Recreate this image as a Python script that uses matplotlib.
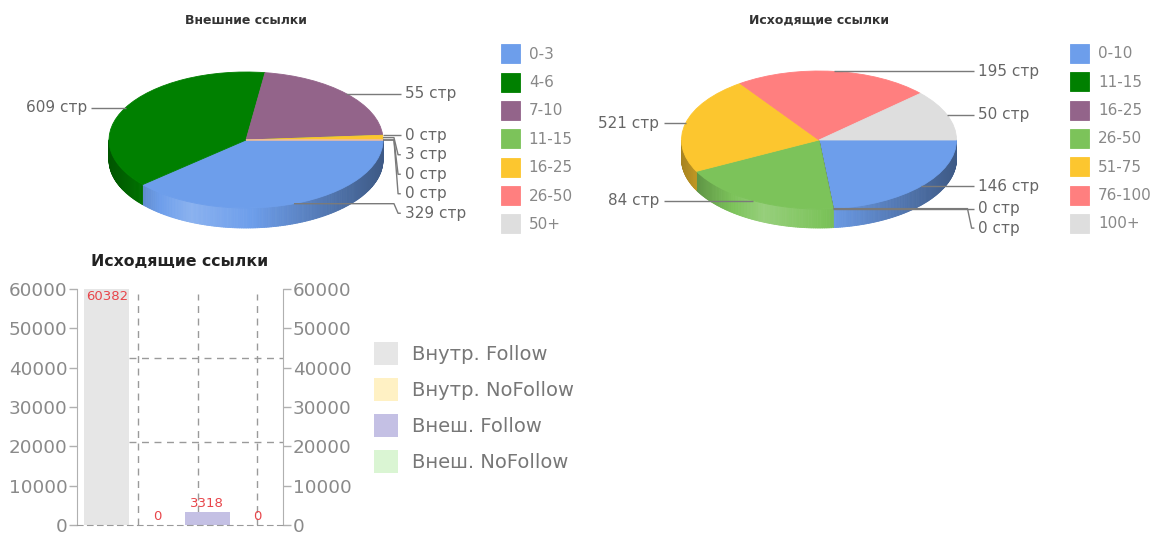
import numpy as np
import matplotlib
matplotlib.use("Agg")
import matplotlib.pyplot as plt
from matplotlib.colors import to_rgb
from matplotlib.collections import PolyCollection

# ---------------- data ----------------
ext_title = "Внешние ссылки"
ext_names = ["0-3", "4-6", "7-10", "11-15", "16-25", "26-50", "50+"]
ext_shares = [139, 139, 78, 0, 4, 0, 0]          # slice sizes as drawn (degrees)
ext_pages = [329, 609, 55, 0, 3, 0, 0]           # label values

out_title = "Исходящие ссылки"
out_names = ["0-10", "11-15", "16-25", "26-50", "51-75", "76-100", "100+"]
out_shares = [84, 0, 0, 69, 82, 82.5, 42.5]
out_pages = [146, 0, 0, 84, 521, 195, 50]

pie_colors = ["#6d9eeb", "#008000", "#93648a", "#7cc35a", "#fcc62f", "#ff7f7f", "#dedede"]

bar_title = "Исходящие ссылки"
bar_names = ["Внутр. Follow", "Внутр. NoFollow", "Внеш. Follow", "Внеш. NoFollow"]
bar_values = [60382, 0, 3318, 0]
bar_colors = ["#e6e6e6", "#fff1c4", "#c4c0e4", "#daf5d3"]
bar_yticks = [0, 10000, 20000, 30000, 40000, 50000, 60000]

# ---------------- layout helpers ----------------
W, H = 1155, 537
fig = plt.figure(figsize=(W / 100, H / 100), dpi=100)
fig.patch.set_facecolor("white")


def px_axes(x0, y0, x1, y1):
    return fig.add_axes([x0 / W, 1 - y1 / H, (x1 - x0) / W, (y1 - y0) / H])


def fxy(x, y):
    return (x / W, 1 - y / H)


def shade(c, t):
    r = np.array(to_rgb(c))
    d = t + 0.4
    s = 0.2 - (0.9 if d < 0 else 0.45) * abs(d)
    s = max(-0.45, min(0.2, s))
    if s > 0:
        return tuple(r + (1 - r) * s)
    return tuple(r * (1 + s))


LABEL_GRAY = "#666666"
LINE_GRAY = "#7a7a7a"


def draw_pie(cx, cy, rx, ry, depth, shares, pages, names, title, leg_x, leg_top):
    ax = px_axes(cx - 1.5 * rx, cy - 1.45 * ry, cx + 1.5 * rx, cy + 1.6 * ry)
    wedges, _ = ax.pie(shares, colors=pie_colors, startangle=0, counterclock=False,
                       radius=1, center=(0, 0),
                       wedgeprops=dict(linewidth=0.6, zorder=2))
    for w in wedges:
        w.set_edgecolor(w.get_facecolor())
    ax.set_aspect("auto")
    ax.set_xlim(-1.5, 1.5)
    ax.set_ylim(-1.6, 1.45)
    ax.axis("off")

    # 3D side walls
    d = depth / ry
    polys, cols = [], []
    for w, col in zip(wedges, pie_colors):
        t1, t2 = w.theta1, w.theta2
        if t2 - t1 <= 0:
            continue
        n = int(np.ceil((t2 - t1) / 0.75)) + 1
        a = np.radians(np.linspace(t1, t2, n))
        for a0, a1 in zip(a[:-1], a[1:]):
            am = 0.5 * (a0 + a1)
            if np.sin(am) >= 0:
                continue
            x0, x1 = np.cos(a0), np.cos(a1)
            y0, y1 = np.sin(a0), np.sin(a1)
            polys.append([(x0, y0), (x1, y1), (x1, y1 - d), (x0, y0 - d)])
            cols.append(shade(col, np.cos(am)))
    ax.add_collection(PolyCollection(polys, facecolors=cols, edgecolors=cols,
                                     linewidths=0.6, zorder=1))

    # labels with leader lines
    items = []
    for i, w in enumerate(wedges):
        m = np.radians(0.5 * (w.theta1 + w.theta2))
        items.append((i, np.cos(m), np.sin(m)))
    gap = 19.5 / ry
    for side in (1, -1):
        sel = [it for it in items if (it[1] >= -1e-9) == (side == 1)]
        sel.sort(key=lambda it: -round(it[2], 9))
        prev = None
        for i, ax_, ay_ in sel:
            ly = ay_ if prev is None else min(ay_, prev - gap)
            prev = ly
            xs = [ax_, side * 1.08, side * 1.11, side * 1.13]
            ys = [ay_, ay_, ly, ly]
            ax.plot(xs, ys, color=LINE_GRAY, lw=1, zorder=3, clip_on=False,
                    solid_capstyle="butt")
            ax.text(side * 1.16, ly, f"{pages[i]} стр", ha="left" if side == 1 else "right",
                    va="center", fontsize=11, color=LABEL_GRAY, zorder=4)

    fig.text(*fxy(cx, 20), title, ha="center", va="center", fontsize=9,
             fontweight="bold", color="#333333")
    ax.legend(wedges, names, loc="upper left", bbox_to_anchor=fxy(leg_x, leg_top),
              bbox_transform=fig.transFigure, frameon=False, fontsize=11,
              handlelength=1.24, handleheight=1.54, labelspacing=0.61,
              handletextpad=0.6, borderpad=0, borderaxespad=0, labelcolor="#888888")


draw_pie(246, 140, 137, 68, 20, ext_shares, ext_pages, ext_names, ext_title, 500.7, 44.2)
draw_pie(819, 140, 137.5, 69, 19, out_shares, out_pages, out_names, out_title, 1070, 43.8)

# ---------------- bar chart ----------------
bx = px_axes(77, 289, 283, 525)
xpos = np.arange(len(bar_values))
bars = bx.bar(xpos, bar_values, width=0.9, color=bar_colors, zorder=2, linewidth=0)
bx.set_xlim(-0.592, 3.512)
bx.set_ylim(0, 60000)
ytop = bx.get_ylim()[1]

for gx in [0.63, 1.81, 2.99]:
    bx.axvline(gx, ymax=0.98, color="#9a9a9a", lw=1, ls=(0, (5, 4)), zorder=1)
for gy in [21200, 42400]:
    bx.hlines(gy, 0.45, 3.512, color="#9a9a9a", lw=1, linestyles=(0, (5, 4)), zorder=1)

for s in ("left", "right"):
    bx.spines[s].set_color("#b0b0b0")
bx.spines["bottom"].set_color("#9a9a9a")
bx.spines["bottom"].set_linestyle((0, (5, 4)))
bx.spines["top"].set_visible(False)
bx.set_xticks([])
bx.set_yticks(bar_yticks)
bx.yaxis.set_ticks_position("both")
bx.tick_params(axis="y", left=True, right=True, labelleft=True, labelright=True,
               length=6, width=1, color="#b0b0b0", labelcolor="#8a8a8a",
               labelsize=13.2, pad=1)

RED = "#e8454a"
for i, v in enumerate(bar_values):
    if v >= ytop * 0.97:
        bx.annotate(str(v), (xpos[i], ytop), xytext=(0, -1), textcoords="offset pixels",
                    ha="center", va="top", color=RED, fontsize=9.5, zorder=5)
    else:
        bx.annotate(str(v), (xpos[i], v), xytext=(0, 1.5), textcoords="offset pixels",
                    ha="center", va="bottom", color=RED, fontsize=9.5, zorder=5)

fig.text(*fxy(180, 262), bar_title, ha="center", va="center", fontsize=11.3,
         fontweight="bold", color="#222222")

bx.legend(bars.patches, bar_names, loc="upper left", bbox_to_anchor=fxy(374, 341.7),
          bbox_transform=fig.transFigure, frameon=False, fontsize=14,
          handlelength=1.235, handleheight=1.44, labelspacing=0.67,
          handletextpad=0.7, borderpad=0, borderaxespad=0, labelcolor="#777777")

fig.savefig("out.png", dpi=100)
